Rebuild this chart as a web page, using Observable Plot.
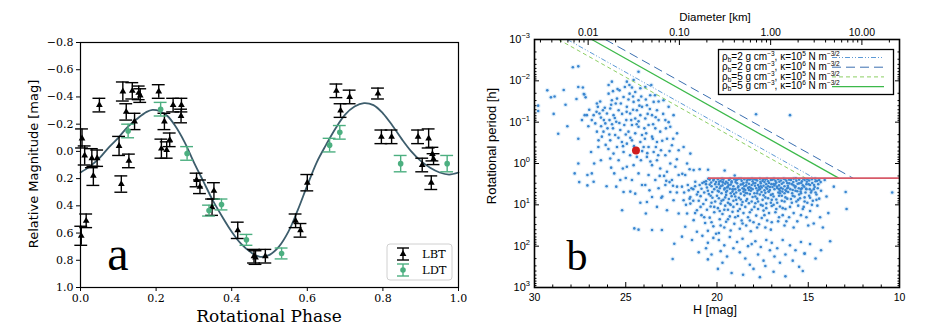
<!DOCTYPE html>
<html><head><meta charset="utf-8">
<script src="https://cdn.jsdelivr.net/npm/d3@7"></script>
<script src="https://cdn.jsdelivr.net/npm/@observablehq/plot@0.6"></script>
<style>
body{margin:0;background:#fff;}
#wrap{position:relative;width:937px;height:328px;overflow:hidden;background:#fff;}
#pa{position:absolute;left:0;top:0;width:470px;height:328px;}
#pb{position:absolute;left:470px;top:0;width:467px;height:328px;}
#ov{position:absolute;left:0;top:0;pointer-events:none;}
</style></head>
<body><div id="wrap"><div id="pa"></div><div id="pb"></div><svg id="ov" width="937" height="328"></svg></div>
<script>
// ================= Panel a data =================
const lbtPhase = [0.004,0.011,0.030,0.034,0.044,0.050,0.015,0.002,0.102,0.108,0.112,0.121,0.128,0.137,0.143,0.154,0.158,0.207,0.214,0.222,0.228,0.236,0.245,0.267,0.266,0.307,0.316,0.353,0.348,0.416,0.459,0.463,0.489,0.569,0.582,0.600,0.677,0.688,0.712,0.787,0.796,0.823,0.893,0.921,0.904,0.931,0.934,0.928];
const lbtMag   = [-0.095,0.03,0.05,0.18,0.05,-0.34,0.51,0.62,-0.04,0.24,-0.44,-0.29,0.07,-0.445,-0.22,-0.43,-0.41,-0.44,-0.02,-0.22,-0.01,-0.085,-0.34,-0.34,-0.26,0.21,0.26,0.29,0.41,0.58,0.77,0.78,0.77,0.51,0.58,0.23,-0.445,-0.30,-0.40,-0.425,-0.107,-0.107,-0.107,-0.095,0.10,0.02,0.057,0.23];
const lbtErr   = [0.07,0.07,0.07,0.07,0.06,0.05,0.05,0.07,0.07,0.06,0.07,0.06,0.05,0.06,0.06,0.05,0.05,0.05,0.07,0.06,0.06,0.05,0.05,0.05,0.05,0.05,0.05,0.06,0.06,0.06,0.05,0.05,0.05,0.05,0.05,0.06,0.05,0.05,0.05,0.04,0.05,0.05,0.05,0.07,0.05,0.05,0.04,0.05];
const ldtPhase = [0.126,0.212,0.282,0.340,0.373,0.439,0.532,0.659,0.686,0.847,0.970];
const ldtMag   = [-0.15,-0.31,0.015,0.435,0.39,0.65,0.75,-0.046,-0.14,0.09,0.09];
const ldtErr   = [0.05,0.05,0.05,0.04,0.04,0.04,0.04,0.05,0.05,0.06,0.06];
const fitPhase = [0,0.025,0.05,0.075,0.1,0.125,0.15,0.175,0.19,0.21,0.23,0.25,0.275,0.3,0.325,0.35,0.375,0.4,0.425,0.45,0.475,0.5,0.525,0.55,0.575,0.6,0.625,0.65,0.675,0.7,0.725,0.75,0.775,0.8,0.825,0.85,0.875,0.9,0.925,0.95,0.975,1.0];
const fitMag   = [0.155,0.11,0.05,-0.03,-0.10,-0.18,-0.24,-0.29,-0.305,-0.295,-0.26,-0.19,-0.07,0.08,0.22,0.36,0.48,0.59,0.68,0.74,0.775,0.76,0.70,0.59,0.43,0.25,0.08,-0.05,-0.17,-0.27,-0.33,-0.355,-0.34,-0.28,-0.19,-0.09,0.0,0.07,0.12,0.155,0.17,0.155];
const magTicks = [-0.8,-0.6,-0.4,-0.2,0,0.2,0.4,0.6,0.8,1.0];
const phaseTicks = [0,0.2,0.4,0.6,0.8,1.0];
const legendA = ["LBT","LDT"];

// ================= Panel b data (H [mag], log10 period [h]) =================
const upperCloud = [[29.8,-1.4],[29.8,-1.27],[29.3,-1.77],[29.1,-1.6],[28.95,-1.2],[28.7,-0.72],[28.3,-1.42],[28.4,-1.78],[28.2,-0.9],[28.9,-1.62],
[27.9,-2.33],[27.6,-2.35],[27.6,-1.85],[27.7,-1.56],[27.3,-1.68],[27.27,-1.67],[27.35,-1.84],[27.2,-1.6],[27.6,0.0],[27.8,0.24],[27.55,0.45],[27.1,0.28],[27.1,0.53],[27.25,-1.17],[27.0,-1.3],[27.05,-0.9],[27.4,-1.05],[27.6,-0.6],
[26.76,-1.17],[26.86,-1.05],[26.53,-1.37],[26.44,-1.21],[26.36,-1.11],[26.25,-1.29],[26.67,-0.97],[26.58,-0.77],[26.12,-0.97],[26.03,-1.21],[26.22,-0.77],[26.31,-0.65],[26.49,-0.56],[26.9,-0.28],[26.73,0.0],[26.86,0.24],[26.76,0.44],[26.36,-0.08],[26.58,-1.45],[27.13,-1.17],
[25.94,-1.69],[25.76,-1.53],[25.85,-1.33],[25.67,-1.17],[25.89,-1.05],[25.52,-1.01],[25.39,-1.29],[25.27,-1.45],[25.12,-1.61],[25.48,-1.57],[25.7,-0.85],[25.3,-0.81],[25.08,-0.93],[25.58,-0.69],[25.85,-0.56],[25.21,-0.52],[25.48,-0.4],[25.67,-0.24],[25.12,-0.28],[25.39,-0.08],[25.85,-0.12],[25.16,0.12],[25.63,0.24],[25.3,0.4],[25.52,0.56],[25.12,0.69],[25.94,-1.9],[25.34,-1.77],[25.76,-1.98],[25.2,1.13],
[24.94,-1.98],[24.66,-1.84],[24.79,-1.69],[24.48,-1.73],[24.3,-1.53],[24.57,-1.49],[24.94,-1.37],[24.39,-1.29],[24.11,-1.37],[24.76,-1.21],[24.48,-1.09],[24.2,-1.17],[24.97,-1.05],[24.66,-0.93],[24.3,-0.89],[24.85,-0.77],[24.48,-0.73],[24.11,-0.69],[24.66,-0.56],[24.94,-0.48],[24.2,-0.52],[24.02,-0.4],[24.76,-0.2],[24.39,-0.16],[24.17,-0.08],[24.57,0.04],[24.94,0.08],[24.3,0.24],[24.66,0.4],[24.11,0.52],[24.48,0.73],[24.53,1.57],[24.3,1.6],[24.3,-2.22],[24.57,-2.02],
[23.93,-1.85],[23.66,-1.65],[23.47,-1.49],[23.84,-1.41],[23.29,-1.29],[23.56,-1.17],[23.93,-1.09],[23.2,-1.05],[23.75,-0.93],[23.38,-0.85],[23.11,-0.77],[23.88,-0.73],[23.56,-0.65],[23.29,-0.52],[23.75,-0.4],[23.47,-0.28],[23.07,-0.32],[23.84,-0.16],[23.29,-0.08],[23.56,0.04],[23.11,0.12],[23.75,0.28],[23.38,0.4],[23.93,0.52],[23.2,0.6],[23.56,0.81],[23.84,0.93],[23.9,1.21],[23.56,1.61],[23.02,1.61],[23.29,1.05],
[22.93,-1.53],[22.65,-1.37],[22.38,-1.17],[22.83,-1.05],[22.56,-0.89],[22.19,-0.73],[22.74,-0.6],[22.47,-0.44],[22.1,-0.32],[22.83,-0.2],[22.56,0.0],[22.28,0.08],[22.74,0.2],[22.1,0.28],[22.47,0.4],[22.83,0.52],[22.19,0.56],[22.56,0.69],[22.38,0.89],[22.74,1.13],[22.1,1.21],[22.43,2.31],[22.34,1.94]];
const upperCore = [[26.4,-1.5],[26.2,-1.05],[26.0,-0.85],[25.8,-1.42],[25.6,-1.1],[25.4,-0.62],[25.2,-1.2],[25.0,-0.7],[24.85,-1.55],[24.7,-1.05],[24.55,-0.42],[24.4,-0.95],[24.25,-1.4],[24.1,-0.3],[23.95,-0.6],[23.8,-1.2],[23.65,-0.05],[23.5,-0.95],[23.35,-0.4],[23.2,-1.5],[26.6,-1.25],[26.35,-0.9],[26.15,-1.35],[25.95,-0.35],[25.75,-0.95],[25.55,-1.45],[25.35,-0.98],[25.15,-0.42],[24.95,-1.25],[24.75,-0.62],[24.6,-1.3],[24.45,-0.35],[24.3,-1.02],[24.15,-1.62],[23.98,-0.85],[23.82,-0.25],[23.68,-1.32],[23.52,-0.6],[23.36,-1.12],[23.22,-0.2],[26.5,-0.4],[26.1,-0.45],[25.9,-0.7],[25.7,-1.75],[25.45,-1.8],[25.05,-1.85],[24.8,-1.9],[24.6,-1.62],[24.2,-1.82],[23.9,-1.55],[23.6,-1.9],[23.4,-1.65],[22.95,-1.2],[22.8,-0.85],[22.6,-0.3],[22.4,-0.6],[22.2,-0.1],[22.9,0.3],[22.6,0.45],[23.0,0.8],[25.0,0.35],[25.8,0.1],[26.05,0.55],[24.2,0.95],[24.75,0.68],[23.7,0.65],[23.0,-0.55],[22.65,-1.0]];
const bridge = [[21.83,-0.4],[21.46,-0.24],[21.64,0.0],[21.28,0.16],[21.74,0.28],[21.92,0.56],[21.55,0.65],[21.19,0.44],[21.83,0.89],[21.46,0.97],[21.1,1.13],[21.64,1.21],[21.28,1.37],[21.74,1.53],[21.92,1.77],[21.37,1.85],[21.1,1.65],[21.46,0.81],[21.04,0.69],[21.5,0.14],[20.95,0.14],[20.49,0.15],[19.58,0.17],[19.03,0.29],[23.14,0.3],[22.78,0.42],[22.41,0.54],[23.05,0.83],[22.2,0.7],[21.9,0.25]];
const cluster = [[20.95,0.52],[20.8,0.47],[20.6,0.43],[20.4,0.39],[20.2,0.41],[20.05,0.45],[20.85,0.61],[20.55,0.58],[20.3,0.55],[20.15,0.62],[20.7,0.7],[20.45,0.74],[20.9,0.79],[20.25,0.83],[20.6,0.88],[20.1,0.92],[20.75,0.98],[20.35,1.04],[20.55,1.12],[20.15,1.18],[20.85,1.25],[20.4,1.31],[20.65,1.44],[20.2,1.52],[20.5,1.63],[20.05,1.7],[21.2,0.55],[21.4,0.6],[21.1,0.75],[21.3,0.9],
[19.95,0.38],[19.8,0.42],[19.65,0.39],[19.5,0.44],[19.35,0.4],[19.2,0.43],[19.05,0.38],[19.9,0.5],[19.7,0.53],[19.55,0.49],[19.4,0.56],[19.25,0.51],[19.1,0.55],[19.85,0.6],[19.6,0.63],[19.45,0.66],[19.3,0.61],[19.15,0.68],[19.0,0.62],[19.75,0.72],[19.5,0.76],[19.2,0.79],[19.9,0.84],[19.65,0.88],[19.35,0.86],[19.1,0.9],[19.8,0.97],[19.55,1.02],[19.25,1.0],[19.95,1.08],[19.4,1.12],[19.15,1.17],[19.7,1.22],[19.3,1.28],[19.85,1.35],[19.5,1.41],[19.05,1.46],[19.6,1.55],[19.25,1.62],[19.9,1.68],
[18.95,0.4],[18.8,0.37],[18.65,0.42],[18.5,0.38],[18.35,0.41],[18.2,0.39],[18.05,0.43],[18.9,0.48],[18.7,0.51],[18.55,0.47],[18.4,0.53],[18.25,0.49],[18.1,0.52],[18.85,0.58],[18.6,0.6],[18.45,0.64],[18.3,0.59],[18.15,0.66],[18.95,0.7],[18.7,0.73],[18.5,0.77],[18.2,0.74],[18.8,0.83],[18.35,0.86],[18.05,0.81],[18.6,0.93],[18.9,0.98],[18.25,0.96],[18.45,1.05],[18.75,1.1],[18.1,1.12],[18.55,1.2],[18.85,1.27],[18.3,1.3],[18.65,1.38],[18.0,1.42],[18.4,1.5],[18.75,1.58],[18.15,1.64],
[17.95,0.38],[17.8,0.41],[17.65,0.37],[17.5,0.42],[17.35,0.39],[17.2,0.43],[17.05,0.4],[17.9,0.47],[17.75,0.52],[17.6,0.48],[17.45,0.54],[17.3,0.5],[17.15,0.47],[17.85,0.6],[17.7,0.63],[17.55,0.58],[17.4,0.65],[17.25,0.61],[17.1,0.57],[17.95,0.72],[17.65,0.75],[17.35,0.71],[17.05,0.76],[17.8,0.85],[17.5,0.88],[17.2,0.84],[17.9,0.96],[17.6,1.0],[17.3,0.97],[17.0,1.03],[17.75,1.1],[17.45,1.14],[17.15,1.2],[17.85,1.26],[17.55,1.32],[17.25,1.38],[17.7,1.47],[17.35,1.55],[17.05,1.6],
[16.95,0.39],[16.8,0.42],[16.65,0.38],[16.5,0.41],[16.35,0.37],[16.2,0.42],[16.05,0.39],[16.9,0.5],[16.75,0.46],[16.6,0.53],[16.45,0.49],[16.3,0.55],[16.15,0.47],[16.85,0.62],[16.7,0.59],[16.55,0.66],[16.4,0.61],[16.25,0.64],[16.1,0.58],[16.95,0.74],[16.6,0.78],[16.3,0.72],[16.75,0.87],[16.45,0.9],[16.15,0.85],[16.9,1.0],[16.55,1.04],[16.25,1.1],[16.8,1.18],[16.4,1.25],[16.05,1.3],[16.65,1.4],[16.3,1.5],
[15.95,0.4],[15.8,0.37],[15.65,0.42],[15.5,0.39],[15.35,0.43],[15.2,0.4],[15.05,0.38],[15.9,0.5],[15.7,0.55],[15.5,0.48],[15.3,0.53],[15.1,0.5],[15.85,0.64],[15.6,0.67],[15.4,0.62],[15.15,0.7],[15.75,0.8],[15.45,0.84],[15.2,0.92],[15.9,0.95],[15.55,1.02],[15.3,1.1],[15.8,1.2],[15.1,1.3],[15.6,1.4],
[14.95,0.41],[14.8,0.38],[14.6,0.43],[14.4,0.4],[14.9,0.52],[14.65,0.57],[14.45,0.5],[14.85,0.7],[14.55,0.75],[14.3,0.66],[14.75,0.9],[14.5,1.02],[14.9,1.15],[14.35,1.3],[14.7,1.45]];
const clusterTop = [[20.48,0.37],[20.32,0.46],[20.18,0.38],[20.02,0.57],[19.88,0.44],[19.72,0.37],[19.58,0.6],[19.42,0.47],[19.28,0.37],[19.12,0.63],[18.98,0.45],[18.83,0.55],[18.68,0.37],[18.52,0.62],[18.38,0.46],[18.22,0.57],[18.08,0.37],[17.92,0.54],[17.78,0.66],[17.62,0.44],[17.48,0.38],[17.32,0.58],[17.18,0.68],[17.02,0.5],[16.88,0.37],[16.72,0.56],[16.58,0.44],[16.42,0.68],[16.28,0.38],[16.12,0.54],[15.98,0.62],[15.82,0.45],[15.68,0.36],[15.52,0.6],[15.38,0.47],[15.22,0.56],[15.08,0.44],[14.92,0.62],[14.78,0.47],[14.62,0.37],[14.48,0.6],[14.32,0.45],
[20.4,0.51],[20.26,0.69],[20.1,0.5],[19.96,0.66],[19.8,0.55],[19.66,0.46],[19.5,0.69],[19.36,0.52],[19.2,0.46],[19.06,0.74],[18.9,0.39],[18.76,0.64],[18.6,0.5],[18.44,0.71],[18.3,0.38],[18.14,0.6],[18.0,0.48],[17.86,0.39],[17.7,0.57],[17.56,0.69],[17.4,0.45],[17.26,0.37],[17.1,0.64],[16.96,0.57],[16.8,0.49],[16.64,0.7],[16.5,0.59],[16.36,0.46],[16.2,0.67],[16.04,0.48],[15.88,0.72],[15.72,0.58],[15.58,0.49],[15.42,0.68],[15.28,0.37],[15.12,0.61],[14.98,0.5],[14.82,0.66],[14.68,0.52],[14.52,0.42]];
const clusterFill = [[20.7,0.45],[20.5,0.66],[20.3,0.95],[20.0,0.78],[19.85,1.15],[19.7,0.45],[19.55,0.82],[19.4,0.95],[19.25,0.72],[19.1,1.05],[18.95,0.88],[18.8,0.65],[18.65,1.0],[18.5,0.55],[18.35,0.72],[18.2,1.18],[18.05,0.62],[17.9,0.8],[17.75,0.92],[17.6,0.55],[17.45,0.77],[17.3,1.08],[17.15,0.68],[17.0,0.88],[16.85,0.53],[16.7,0.95],[16.55,0.72],[16.4,1.08],[16.25,0.82],[16.1,0.69],[15.95,0.86],[15.8,0.53],[15.65,0.92],[15.5,0.75],[15.35,0.6],[15.2,0.82],[15.05,0.95],[14.9,0.83],[14.7,0.62],[14.55,0.88],
[20.6,0.5],[20.35,0.78],[20.15,1.05],[19.9,0.68],[19.75,0.9],[19.6,1.12],[19.45,0.58],[19.3,0.98],[19.15,0.62],[19.0,0.8],[18.85,1.15],[18.7,0.87],[18.55,0.68],[18.4,0.9],[18.25,0.64],[18.1,0.92],[17.95,1.05],[17.8,0.72],[17.65,0.62],[17.5,1.02],[17.35,0.82],[17.2,0.55],[17.05,0.95],[16.9,0.8],[16.75,1.1],[16.6,0.62],[16.45,0.78],[16.3,0.92],[16.15,0.6],[16.0,1.05],[15.85,0.78],[15.7,0.66],[15.55,0.88],[15.4,0.72],[15.25,1.05],[15.1,0.62],[14.95,0.78],[14.8,1.0],[14.6,0.7],[14.4,0.85],
[21.6,0.52],[21.8,0.7],[21.5,0.85],[21.7,1.0],[21.3,0.62],[21.0,0.9],[20.9,1.05],[21.2,1.2],[20.7,1.3],[20.3,1.42],[19.8,1.5],[19.4,1.35],[19.0,1.3],[18.6,1.45],[18.2,1.38],[17.8,1.55],[17.4,1.25],[17.0,1.42],[16.6,1.3],[16.2,1.4],[15.8,1.55],[15.4,1.25],[15.0,1.5]];
const lowerTail = [[20.8,1.75],[20.5,1.92],[20.2,1.8],[20.6,2.05],[20.3,2.2],[19.9,1.85],[19.6,1.98],[19.3,1.78],[19.8,2.12],[19.45,2.25],[19.1,2.05],[19.7,2.4],[19.2,2.65],[18.9,1.9],[18.6,1.82],[18.3,2.0],[18.75,2.15],[18.45,2.3],[18.1,1.95],[18.57,2.69],[18.2,2.45],[17.9,1.88],[17.6,2.02],[17.3,1.85],[17.75,2.2],[17.45,2.35],[17.1,2.1],[17.35,2.48],[17.0,1.92],[16.7,2.05],[16.4,1.85],[16.85,2.25],[16.55,2.4],[16.25,2.2],[16.25,2.73],[16.0,1.98],[15.7,2.1],[15.4,1.9],[15.85,2.35],[15.5,2.5],[15.2,2.18],[15.3,2.6],[14.9,1.95],[14.6,2.3],[14.3,2.1],[13.8,1.88],[20.5,2.32],[21.0,2.15],[19.95,2.55],[18.0,2.55],[17.65,2.75],[16.9,2.62]];
const rightSparse = [[14.1,0.4],[13.6,0.56],[12.95,0.69],[12.9,1.1],[10.4,0.7],[16.0,-1.17],[17.86,-1.19],[15.2,2.18],[14.0,0.8],[13.9,1.2],[14.2,1.55]];
const targetH = [24.44];
const targetLogP = [-0.315];
// spin-barrier lines: start H at P=1e-3 h, end H at the 2.2 h barrier
const spinNames  = ["ρb=2, κ=1e5","ρb=2, κ=1e6","ρb=5, κ=1e5","ρb=5, κ=1e6"];
const spinStartH = [28.2, 26.12, 28.68, 26.86];
const spinEndH   = [14.67, 12.52, 15.15, 13.33];
const spinStartP = [1e-3, 1e-3, 1e-3, 1e-3];
const spinEndP   = [2.26, 2.3, 2.26, 2.26];
const barrierP = 2.26, barrierH1 = 20.5, barrierH2 = 10;
const hMajor = [30,25,20,15,10];
const pMajor = [1e-3,1e-2,1e-1,1,10,100,1000];
const dMajor = [0.01,0.1,1,10];
const legendB = [["2","5"],["2","6"],["5","5"],["5","6"]];

// ================= Panel a =================
const capW = 0.017;
const lbt = lbtPhase.map((x,i)=>({x, y:lbtMag[i], e:lbtErr[i]}));
const ldt = ldtPhase.map((x,i)=>({x, y:ldtMag[i], e:ldtErr[i]}));
const fit = fitPhase.map((x,i)=>({x, y:fitMag[i]}));
const green = "#4caf80";

function bars(data, color){
  return [
    Plot.ruleX(data, {x:"x", y1:d=>d.y-d.e, y2:d=>d.y+d.e, stroke:color, strokeWidth:1.4}),
    Plot.ruleY(data, {y:d=>d.y-d.e, x1:d=>d.x-capW, x2:d=>d.x+capW, stroke:color, strokeWidth:1.4}),
    Plot.ruleY(data, {y:d=>d.y+d.e, x1:d=>d.x-capW, x2:d=>d.x+capW, stroke:color, strokeWidth:1.4})
  ];
}

const pa = Plot.plot({
  width:470, height:328, marginLeft:80, marginRight:12, marginTop:42, marginBottom:41,
  style:{fontFamily:"'DejaVu Serif', serif", fontSize:"11px", color:"#000", background:"transparent"},
  x:{domain:[0,1], label:null},
  y:{domain:[1.0,-0.8], label:null},
  marks:[
    Plot.line(fit, {x:"x", y:"y", curve:"catmull-rom", stroke:"#3d5d6c", strokeWidth:1.8}),
    ...bars(lbt, "#000"),
    ...bars(ldt, green),
    Plot.dot(lbt, {x:"x", y:"y", symbol:"triangle", r:2.5, fill:"#000"}),
    Plot.dot(ldt, {x:"x", y:"y", r:2.8, fill:green}),
    Plot.frame({stroke:"#000", strokeWidth:1.2}),
    Plot.axisY({ticks:magTicks, tickSize:4, tickPadding:3, tickFormat:d3.format(".1f"), label:null}),
    Plot.axisX({ticks:phaseTicks, tickSize:4, tickPadding:3, tickFormat:d3.format(".1f"), label:null})
  ]
});
document.getElementById("pa").append(pa);

// ================= Panel b =================
const H0 = 27.06;
const hOf = D => H0 - 5*Math.log10(D/0.01);
const dOf = H => 0.01*Math.pow(10,(H0-H)/5);
const toPt = a => a.map(d=>({H:d[0], P:Math.pow(10,d[1])}));
const allPts = toPt([...upperCloud, ...upperCore, ...bridge, ...cluster, ...clusterTop, ...clusterFill, ...lowerTail, ...rightSparse]);
const target = targetH.map((h,i)=>({H:h, P:Math.pow(10,targetLogP[i])}));
const spin = spinNames.map((n,i)=>({n, h1:spinStartH[i], p1:spinStartP[i], h2:spinEndH[i], p2:spinEndP[i]}));
const spinStyle = [
  {stroke:"#5d9ad6", dash:"5,2,1,2,1,2", w:1},
  {stroke:"#3b6fb0", dash:"9,5", w:1},
  {stroke:"#8ccf64", dash:"4,3", w:1},
  {stroke:"#3cb94a", dash:null, w:1.3}
];
const pMinor = [], hMinor = [], dMinor = [];
for (let k=-3;k<3;k++) for (let m=2;m<10;m++) pMinor.push(m*Math.pow(10,k));
for (let h=11;h<30;h++) if (h%5) hMinor.push(h);
for (let k=-3;k<2;k++) for (let m=2;m<10;m++){ const D=m*Math.pow(10,k); const h=hOf(D); if(h>10 && h<30) dMinor.push(h); }
const noLab = () => "";

const pb = Plot.plot({
  width:467, height:328, marginLeft:64, marginRight:38, marginTop:39, marginBottom:41,
  style:{fontFamily:"'Liberation Sans', Arial, sans-serif", fontSize:"10.5px", color:"#000", background:"transparent"},
  x:{domain:[30,10], label:null},
  y:{type:"log", domain:[1e3,1e-3], label:null},
  marks:[
    Plot.dot(allPts, {x:"H", y:"P", r:2.5, fill:"#cfe6f8", fillOpacity:0.6}),
    Plot.dot(allPts, {x:"H", y:"P", r:1.3, fill:"#3a86d0"}),
    ...spin.map((s,i)=>Plot.link([s], {x1:"h1", y1:"p1", x2:"h2", y2:"p2", stroke:spinStyle[i].stroke, strokeWidth:spinStyle[i].w, strokeDasharray:spinStyle[i].dash})),
    Plot.link([{h1:barrierH1, h2:barrierH2, p:barrierP}], {x1:"h1", x2:"h2", y1:"p", y2:"p", stroke:"#d75a68", strokeWidth:1.6}),
    Plot.dot(target, {x:"H", y:"P", r:4, fill:"#d01c1c"}),
    Plot.frame({stroke:"#000", strokeWidth:1.6}),
    Plot.axisY({anchor:"left", ticks:pMajor, tickSize:-5, tickFormat:noLab, label:null}),
    Plot.axisY({anchor:"left", ticks:pMinor, tickSize:-2.5, tickFormat:noLab, label:null}),
    Plot.axisY({anchor:"right", ticks:pMajor, tickSize:-5, tickFormat:noLab, label:null}),
    Plot.axisY({anchor:"right", ticks:pMinor, tickSize:-2.5, tickFormat:noLab, label:null}),
    Plot.axisX({anchor:"bottom", ticks:hMajor, tickSize:-5, tickFormat:noLab, label:null}),
    Plot.axisX({anchor:"bottom", ticks:hMinor, tickSize:-2.5, tickFormat:noLab, label:null}),
    Plot.axisX({anchor:"bottom", ticks:hMajor, tickSize:0, tickPadding:6, tickFormat:d=>String(d), label:null}),
    Plot.axisX({anchor:"top", ticks:dMajor.map(hOf), tickSize:-5, tickFormat:noLab, label:null}),
    Plot.axisX({anchor:"top", ticks:dMinor, tickSize:-2.5, tickFormat:noLab, label:null}),
    Plot.axisX({anchor:"top", ticks:dMajor.map(hOf), tickSize:0, tickPadding:4, tickFormat:h=>dOf(h).toFixed(2), label:null})
  ]
});
document.getElementById("pb").append(pb);

// ================= Overlay texts / legends =================
const ov = d3.select("#ov");
const serif = "'DejaVu Serif', serif";
const dsans = "'DejaVu Sans', sans-serif";
const sans = "'Liberation Sans', Arial, sans-serif";
const times = "'Liberation Serif', 'Times New Roman', serif";

ov.append("text").attr("transform","translate(34,164) rotate(-90)").attr("text-anchor","middle").attr("dominant-baseline","middle")
  .style("font-family",dsans).style("font-size","13px").text("Relative Magnitude [mag]");
ov.append("text").attr("x",269).attr("y",322).attr("text-anchor","middle")
  .style("font-family",serif).style("font-size","17px").text("Rotational Phase");
ov.append("text").attr("x",118).attr("y",270).attr("text-anchor","middle")
  .style("font-family",times).style("font-size","48px").text("a");

// legend a
const lgA = ov.append("g");
lgA.append("rect").attr("x",387).attr("y",244).attr("width",65).attr("height",36).attr("rx",3)
  .attr("fill","#fff").attr("fill-opacity",0.85).attr("stroke","#d0d0d0");
[["#000","triangle"],[green,"circle"]].forEach(([c,s],i)=>{
  const cy = 254 + i*16, cx = 403;
  lgA.append("line").attr("x1",cx).attr("x2",cx).attr("y1",cy-6).attr("y2",cy+6).attr("stroke",c).attr("stroke-width",1.4);
  lgA.append("line").attr("x1",cx-6).attr("x2",cx+6).attr("y1",cy-6).attr("y2",cy-6).attr("stroke",c).attr("stroke-width",1.4);
  lgA.append("line").attr("x1",cx-6).attr("x2",cx+6).attr("y1",cy+6).attr("y2",cy+6).attr("stroke",c).attr("stroke-width",1.4);
  if (s==="triangle") lgA.append("path").attr("d",d3.symbol(d3.symbolTriangle, Math.PI*2.5*2.5)()).attr("transform",`translate(${cx},${cy})`).attr("fill",c);
  else lgA.append("circle").attr("cx",cx).attr("cy",cy).attr("r",2.8).attr("fill",c);
  lgA.append("text").attr("x",422).attr("y",cy+4).style("font-family",serif).style("font-size","11.5px").text(legendA[i]);
});

// panel b labels
const OX = 470;
ov.append("text").attr("transform","translate(493,146) rotate(-90)").attr("text-anchor","middle").attr("dominant-baseline","middle")
  .style("font-family",sans).style("font-size","13px").text("Rotational period [h]");
ov.append("text").attr("x",715).attr("y",314).attr("text-anchor","middle")
  .style("font-family",sans).style("font-size","12.5px").text("H [mag]");
ov.append("text").attr("x",715).attr("y",21).attr("text-anchor","middle")
  .style("font-family",sans).style("font-size","11.5px").text("Diameter [km]");
ov.append("text").attr("x",577).attr("y",270).attr("text-anchor","middle")
  .style("font-family",times).style("font-size","42px").text("b");

// y tick labels 10^k placed with panel b's own y scale
const ysc = pb.scale("y");
pMajor.forEach(p=>{
  const y = ysc.apply(p);
  const t = ov.append("text").attr("x",OX+60).attr("y",y+4).attr("text-anchor","end")
    .style("font-family",sans).style("font-size","11px");
  t.append("tspan").text("10");
  t.append("tspan").attr("dy",-5).style("font-size","7.5px").text(String(Math.round(Math.log10(p))).replace("-","−"));
});

// legend b
const lgB = ov.append("g");
lgB.append("rect").attr("x",718.5).attr("y",49.5).attr("width",175).attr("height",45).attr("fill","#fff").attr("stroke","#000").attr("stroke-width",1.3);
legendB.forEach(([rho,k],i)=>{
  const cy = 56.5 + i*9.7;
  const t = lgB.append("text").attr("x",722).attr("y",cy+3.6).style("font-family",sans).style("font-size","10px");
  t.append("tspan").text("ρ");
  t.append("tspan").attr("dy",2).style("font-size","6.5px").text("b");
  t.append("tspan").attr("dy",-2).text(`=${rho} g cm`);
  t.append("tspan").attr("dy",-4).style("font-size","6.5px").text("−3");
  t.append("tspan").attr("dy",4).text(", κ=10");
  t.append("tspan").attr("dy",-4).style("font-size","6.5px").text(k);
  t.append("tspan").attr("dy",4).text(" N m");
  t.append("tspan").attr("dy",-4).style("font-size","6.5px").text("−3/2");
  const st = spinStyle[i];
  lgB.append("line").attr("x1",832).attr("x2",884).attr("y1",cy+1).attr("y2",cy+1)
    .attr("stroke",st.stroke).attr("stroke-width",st.w).attr("stroke-dasharray",st.dash);
});
</script>
</body></html>
